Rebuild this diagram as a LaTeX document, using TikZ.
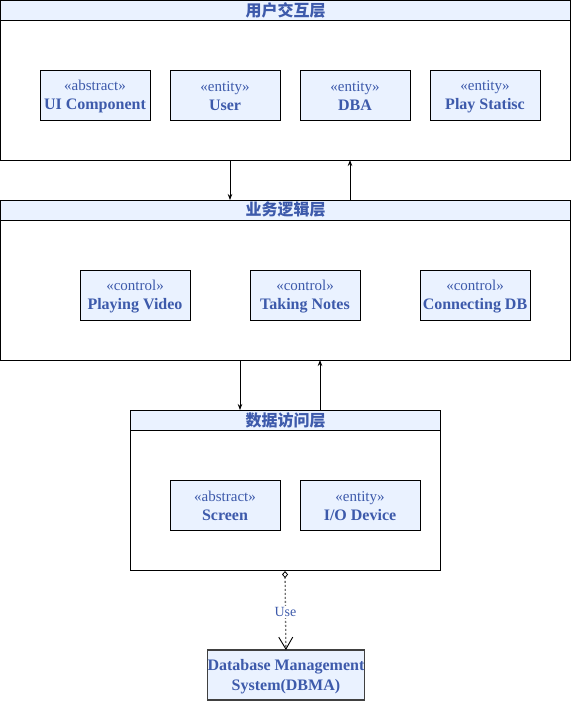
\documentclass[tikz,border=0pt]{standalone}
\usepackage{fontspec}
\setmainfont{Liberation Serif}
\newfontfamily\cjk{Noto Sans CJK SC}
\usetikzlibrary{arrows.meta}
\definecolor{boxfill}{HTML}{EAF2FF}
\definecolor{txtblue}{HTML}{3D5AAB}
\tikzset{
  layerbox/.style={draw=black, line width=0.9pt, fill=white, anchor=north west, inner sep=0pt, outer sep=0pt},
  headbox/.style={draw=black, line width=0.9pt, fill=boxfill, anchor=north west, inner sep=0pt, outer sep=0pt,
    text=txtblue, font=\cjk\bfseries\fontsize{16}{16}\selectfont},
  classbox/.style={draw=black, line width=0.9pt, fill=boxfill, anchor=north west, inner sep=0pt, outer sep=0pt,
    minimum height=50pt, align=center, text=txtblue, font=\fontsize{16}{19}\selectfont},
  dbbox/.style={draw=black!75, line width=1.3pt, fill=boxfill, anchor=north west, inner sep=0pt, outer sep=0pt,
    minimum height=50pt, minimum width=155pt, align=center, text=txtblue, font=\bfseries\fontsize{16}{20}\selectfont},
  arr/.style={line width=0.8pt, -{Stealth[length=6pt,width=4.5pt]}},
  usearr/.style={draw=black!55, line width=1.3pt, dash pattern=on 2pt off 2pt,
    {Diamond[open,length=7pt,width=6pt,line width=0.8pt,black]}-{Straight Barb[length=12pt,width=14pt,line width=0.9pt,black]}},
  uselabel/.style={fill=white, text=txtblue, inner sep=1pt, font=\fontsize{14}{14}\selectfont}
}
\newcommand{\cls}[2]{{\fontsize{15}{19}\selectfont\rule{0pt}{13pt}«#1»}\\{\bfseries #2}}
\begin{document}
\begin{tikzpicture}[x=1pt,y=-1pt]
\useasboundingbox (0,0) rectangle (572,702);

% Layer 1
\node[layerbox, minimum width=570pt, minimum height=159.5pt] (L1) at (0.5,0.5) {};
\node[headbox, minimum width=570pt, minimum height=19.5pt] (L1H) at (0.5,0.5) {用户交互层};
\node[classbox, minimum width=110pt] (c1) at (40,70) {\cls{abstract}{UI Component}};
\node[classbox, minimum width=110pt] (c2) at (170,70) {\cls{entity}{User}};
\node[classbox, minimum width=110pt] (c3) at (300,70) {\cls{entity}{DBA}};
\node[classbox, minimum width=110pt] (c4) at (430,70) {\cls{entity}{Play Statisc}};

% Layer 2
\node[layerbox, minimum width=570pt, minimum height=160pt] (L2) at (0.5,200) {};
\node[headbox, minimum width=570pt, minimum height=20pt] (L2H) at (0.5,200) {业务逻辑层};
\node[classbox, minimum width=110pt] (p1) at (80,270) {\cls{control}{Playing Video}};
\node[classbox, minimum width=110pt] (p2) at (250,270) {\cls{control}{Taking Notes}};
\node[classbox, minimum width=110pt] (p3) at (420,270) {\cls{control}{Connecting DB}};

% Layer 3
\node[layerbox, minimum width=310pt, minimum height=160pt] (L3) at (130.5,410) {};
\node[headbox, minimum width=310pt, minimum height=20pt] (L3H) at (130.5,410) {数据访问层};
\node[classbox, minimum width=110pt] (d1) at (170,480) {\cls{abstract}{Screen}};
\node[classbox, minimum width=120pt] (d2) at (300,480) {\cls{entity}{I/O Device}};

% DBMS
\node[dbbox] (db) at (207.5,650) {\rule{0pt}{14pt}Database Management\\System(DBMA)};

% connectors
\draw[arr] ([xshift=229.5pt]L1.south west) -- ([xshift=229.5pt]L2H.north west);
\draw[arr] ([xshift=349.5pt]L2H.north west) -- ([xshift=349.5pt]L1.south west);
\draw[arr] ([xshift=239.5pt]L2.south west) -- ([xshift=109.5pt]L3H.north west);
\draw[arr] ([xshift=189.5pt]L3H.north west) -- ([xshift=319.5pt]L2.south west);
\draw[usearr] ([xshift=154.5pt,yshift=-1pt]L3.south west) -- (db.north) node[pos=0.52, uselabel] {Use};
\end{tikzpicture}
\end{document}
